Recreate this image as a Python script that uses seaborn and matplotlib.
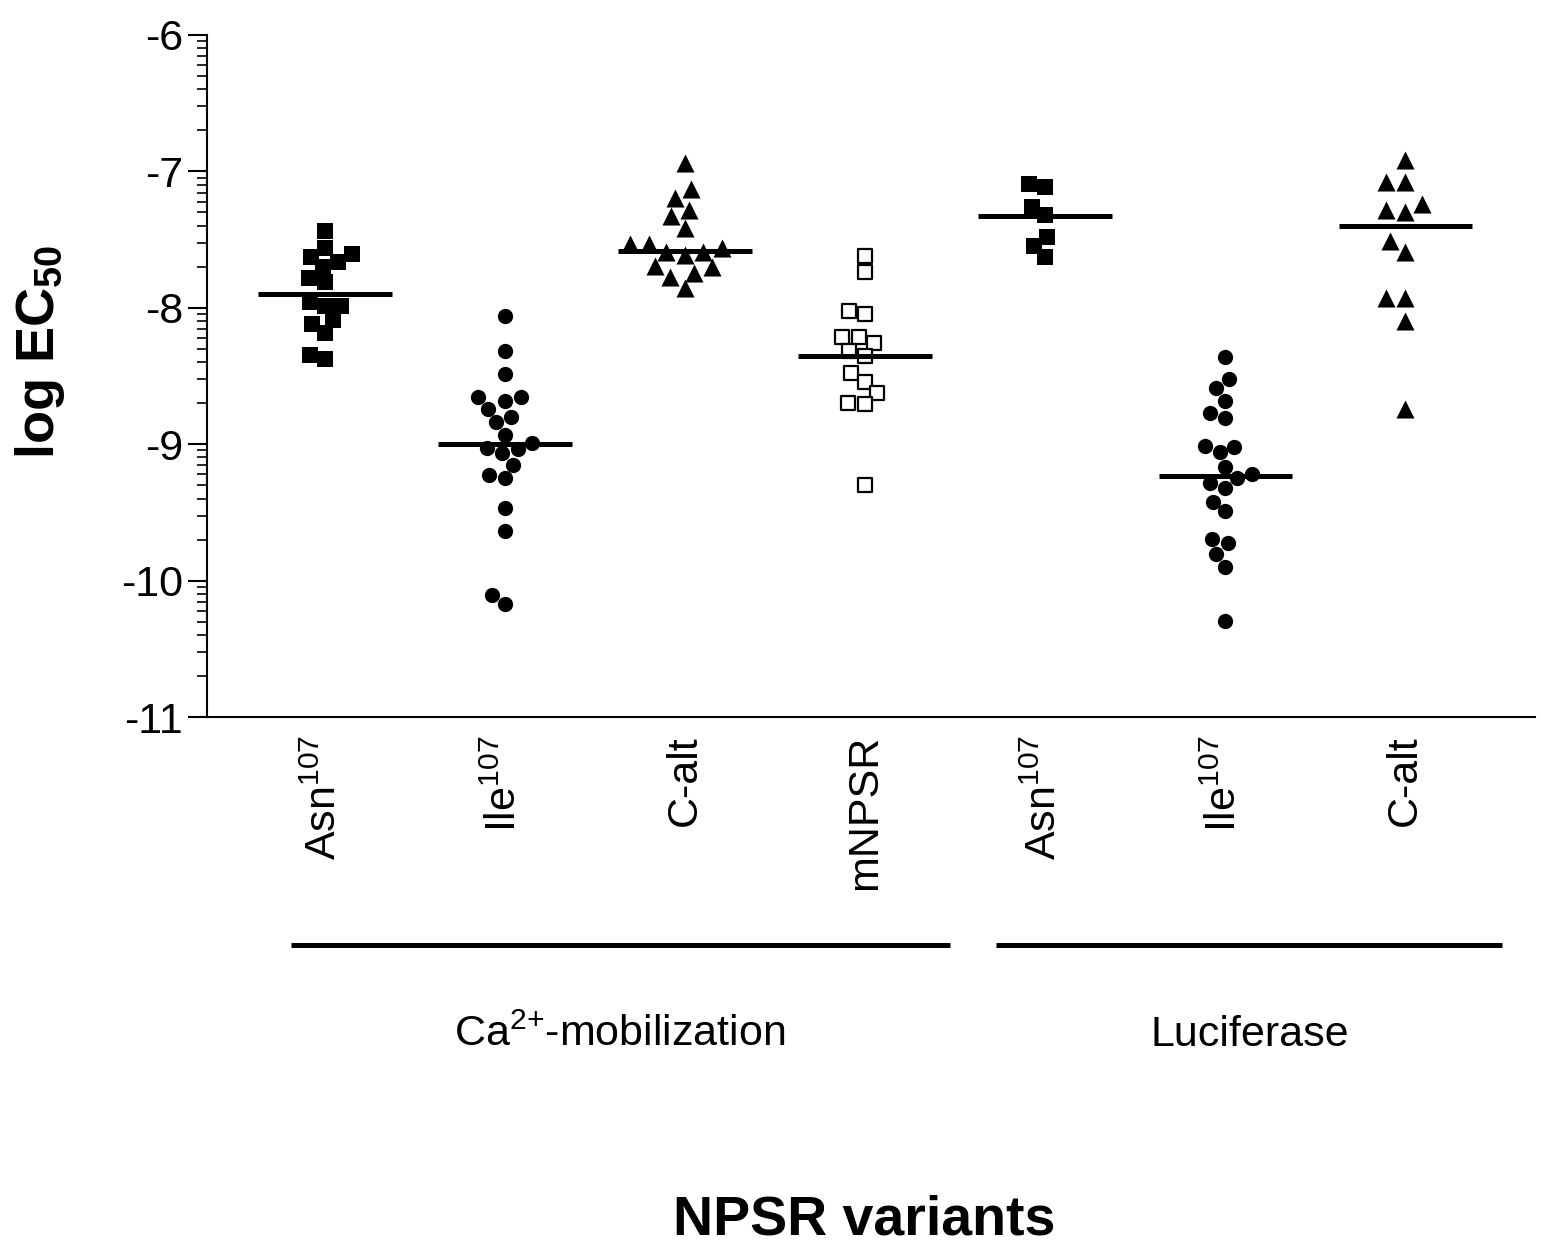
import numpy as np
import pandas as pd
import matplotlib
matplotlib.use("Agg")
import matplotlib.pyplot as plt
import matplotlib.transforms as mtransforms
import seaborn as sns

# log EC50 values, one list per column
asn_ca = [-7.435, -7.608, -7.662, -7.625, -7.698, -7.564, -7.784, -7.809,
          -7.955, -7.987, -7.99, -8.09, -8.119, -8.187, -8.378, -8.346]
ile_ca = [-8.06, -8.317, -8.488, -8.656, -8.683, -8.656, -8.742, -8.803,
          -8.84, -8.933, -9.026, -9.067, -9.037, -8.993, -9.152, -9.226,
          -9.25, -9.47, -9.634, -10.106, -10.172]
calt_ca = [-6.94, -7.131, -7.197, -7.283, -7.327, -7.417, -7.532, -7.532,
           -7.564, -7.588, -7.613, -7.588, -7.694, -7.742, -7.703, -7.772, -7.857]
mnpsr_ca = [-7.62, -7.74, -8.045, -8.023, -8.211, -8.256, -8.211, -8.314,
            -8.353, -8.476, -8.542, -8.627, -8.70, -8.708, -9.299]
asn_luc = [-7.112, -7.095, -7.259, -7.32, -7.478, -7.545, -7.625]
ile_luc = [-8.358, -8.524, -8.59, -8.683, -8.81, -8.774, -9.018, -9.06,
           -9.013, -9.165, -9.245, -9.324, -9.287, -9.219, -9.421, -9.49,
           -9.727, -9.695, -9.805, -9.898, -10.294]
calt_luc = [-6.916, -7.075, -7.075, -7.241, -7.30, -7.283, -7.51, -7.588,
            -7.93, -7.93, -8.097, -8.744]

# horizontal bars drawn through each column
center_lines = [-7.90, -9.00, -7.58, -8.35, -7.33, -9.23, -7.40]

keys = ["asn_ca", "ile_ca", "calt_ca", "mnpsr_ca", "asn_luc", "ile_luc", "calt_luc"]
tick_labels = [r"Asn$^{\mathregular{107}}$", r"Ile$^{\mathregular{107}}$", "C-alt", "mNPSR",
               r"Asn$^{\mathregular{107}}$", r"Ile$^{\mathregular{107}}$", "C-alt"]
series = [asn_ca, ile_ca, calt_ca, mnpsr_ca, asn_luc, ile_luc, calt_luc]
markers = ["s", "o", "^", "s", "s", "o", "^"]
open_marker = [False, False, False, True, False, False, False]
groups = [r"Ca$^{\mathregular{2{+}}}$-mobilization", "Luciferase"]
group_spans = [(-0.19, 3.47), (3.73, 6.54)]

sns.set_style("ticks")
plt.rcParams["font.family"] = ["Liberation Sans", "DejaVu Sans"]
plt.rcParams["mathtext.fontset"] = "custom"
plt.rcParams["mathtext.rm"] = "Liberation Sans"
plt.rcParams["mathtext.it"] = "Liberation Sans:italic"
plt.rcParams["mathtext.bf"] = "Liberation Sans:bold"
for k in ["text.color", "axes.labelcolor", "xtick.color", "ytick.color", "axes.edgecolor"]:
    plt.rcParams[k] = "black"

fig = plt.figure(figsize=(15.41, 12.49), dpi=100)
ax = fig.add_axes([0.1343, 0.4259, 0.8617, 0.5461])

for key, vals, mk, is_open in zip(keys, series, markers, open_marker):
    df = pd.DataFrame({"variant": key, "logec50": vals})
    size = 13 if mk == "^" else 11
    if is_open:
        sns.swarmplot(data=df, x="variant", y="logec50", order=keys, marker=mk,
                      size=size - 1.2, color="white", edgecolor="black", linewidth=1.6,
                      ax=ax, warn_thresh=1)
    else:
        sns.swarmplot(data=df, x="variant", y="logec50", order=keys, marker=mk,
                      size=size, color="black", linewidth=0, ax=ax, warn_thresh=1)

for i, c in enumerate(center_lines):
    ax.plot([i - 0.37, i + 0.37], [c, c], color="black", lw=3.6,
            solid_capstyle="butt", zorder=5)

ax.set_xlim(-0.655, 6.72)
ax.set_ylim(-11, -6)
ax.set_yticks(np.arange(-11, -5))
ax.set_yticklabels([str(v) for v in range(-11, -5)])
minor = [n + np.log10(k) for n in range(-11, -6) for k in range(2, 10)]
ax.set_yticks(minor, minor=True)
ax.tick_params(axis="y", which="major", length=14, width=1.5, labelsize=31, pad=3)
ax.tick_params(axis="y", which="minor", length=7, width=1.2)

ax.set_xticks(range(len(keys)))
ax.set_xticklabels(tick_labels, rotation=90, fontsize=31, va="top", ha="center")
ax.tick_params(axis="x", length=0, pad=13)

sns.despine(ax=ax)
ax.spines["left"].set_linewidth(1.5)
ax.spines["bottom"].set_linewidth(1.5)

ax.set_ylabel(r"log EC$_{\mathbf{50}}$", fontsize=39, fontweight="bold", va="center")
ax.yaxis.set_label_coords(-0.126, 0.535)
ax.set_xlabel("NPSR variants", fontsize=40, fontweight="bold", va="center")
ax.xaxis.set_label_coords(0.495, -0.738)

trans = mtransforms.blended_transform_factory(ax.transData, ax.transAxes)
for name, (x0, x1) in zip(groups, group_spans):
    ax.plot([x0, x1], [-0.334, -0.334], color="black", lw=3.6,
            transform=trans, clip_on=False, solid_capstyle="butt")
    ax.text((x0 + x1) / 2, -0.466, name, transform=trans, fontsize=31,
            ha="center", va="center")

fig.savefig("out.png", dpi=100)
